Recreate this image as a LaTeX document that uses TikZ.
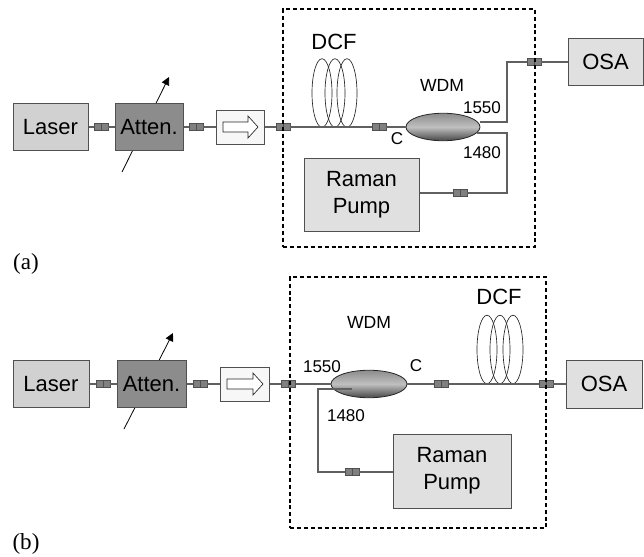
\documentclass[tikz,border=0pt]{standalone}
\usepackage{fontspec}
\setmainfont{Liberation Sans}
\newfontfamily\lblfont{Liberation Serif}
\usetikzlibrary{shapes.geometric,arrows.meta}
\def\pu{0.75pt}
\definecolor{fibre}{HTML}{606060}
\definecolor{edge}{HTML}{505050}
\tikzset{
  x=0.75pt,y=-0.75pt,
  block/.style n args={3}{draw=edge,line width=0.75pt,fill=#1,inner sep=0pt,minimum width=#2*\pu,minimum height=#3*\pu,align=center,font=\fontsize{16.5}{20.25}\selectfont},
  fibreline/.style={draw=fibre,line width=0.85pt},
  splice/.style={draw=edge,line width=0.5pt,fill=black!50,inner sep=0pt,minimum width=14*\pu,minimum height=7*\pu,
    path picture={\draw[edge,line width=0.5pt] (path picture bounding box.north) -- (path picture bounding box.south);}},
  coil/.style={draw=black!85,line width=0.5pt,ellipse,inner sep=0pt,minimum width=20*\pu,minimum height=68.5*\pu},
  wdm/.style={draw=black!85,line width=0.6pt,ellipse,inner sep=0pt,top color=black!45,bottom color=black!72,middle color=black!25,minimum width=#1*\pu,minimum height=27.5*\pu},
  isoarrow/.style={draw=black!85,line width=0.5pt,fill=white},
  frame/.style={draw=black,dash pattern=on 3pt off 2.2pt,line width=#1,inner sep=0pt},
  tunearrow/.style={draw=black,line width=0.6pt,-{Triangle[length=8*\pu,width=8*\pu]}},
  dcflabel/.style={font=\fontsize{16.5}{20}\selectfont,inner sep=0pt},
  wdmlabel/.style={font=\fontsize{13.2}{16}\selectfont,inner sep=0pt},
  numlabel/.style={font=\fontsize{12.8}{16}\selectfont,inner sep=0pt},
  panellabel/.style={font=\lblfont\fontsize{17.3}{20}\selectfont,inner sep=0pt},
}
\begin{document}
\begin{tikzpicture}
\useasboundingbox (0,0) rectangle (644,557);
% ---------- panel (a)
\coordinate (atlowA) at (122,172);
\coordinate (athighA) at (169,77);
\draw[tunearrow] (atlowA) -- (athighA);
\node[block={black!18}{75}{47}] (laserA) at (50.5,127) {Laser};
\node[block={black!45}{68}{47}] (attenA) at (149,127) {Atten.};
\node[block={black!3}{48}{34}] (isoA) at (240,127) {};
\draw[isoarrow] (223,122) -- (248,122) -- (248,116) -- (258,127) -- (248,138) -- (248,132) -- (223,132) -- cycle;
\node[splice] (s1A) at (101,127) {};
\node[splice] (s2A) at (196,127) {};
\node[splice] (s3A) at (283,127) {};
\node[splice] (s4A) at (379,127) {};
\node[splice] (s5A) at (534,62) {};
\node[splice] (s6A) at (460,193) {};
\node[coil] (c1A) at (322,93) {};
\node[coil] (c2A) at (335,93) {};
\node[coil] (c3A) at (347,93) {};
\node[dcflabel] (dcfA) at (334,42) {DCF};
\node[wdm=74] (wdmA) at (443,127) {};
\node[wdmlabel] (wdmtA) at (442,85) {WDM};
\node[numlabel] (n1A) at (482,108) {1550};
\node[numlabel] (n2A) at (482,153) {1480};
\node[numlabel] (ccA) at (397,139) {C};
\node[block={black!12}{75}{47}] (osaA) at (605.5,62) {OSA};
\node[block={black!12}{115}{73}] (ramanA) at (361.5,194.5) {Raman\\Pump};
\coordinate (p1A) at (480,122);
\coordinate (p2A) at (477,133);
\draw[fibreline] (laserA.east) -- (s1A.west);
\draw[fibreline] (s1A.east) -- (attenA.west);
\draw[fibreline] (attenA.east) -- (s2A.west);
\draw[fibreline] (s2A.east) -- (isoA.west);
\draw[fibreline] (isoA.east) -- (s3A.west);
\draw[fibreline] (s3A.east) -- (s4A.west);
\draw[fibreline] (s4A.east) -- (wdmA.west);
\draw[fibreline] (p1A) -| (507,62) -- (s5A.west);
\draw[fibreline] (s5A.east) -- (osaA.west);
\draw[fibreline] (p2A) -| (507,193) -- (s6A.east);
\draw[fibreline] (s6A.west) -- (ramanA.east |- s6A.west);
\node[frame=0.8pt,minimum width=252*\pu,minimum height=238*\pu] (frameA) at (409,128) {};
\node[panellabel] (labA) at (26,264) {(a)};
% ---------- panel (b)
\coordinate (atlowB) at (124,429);
\coordinate (athighB) at (173,333);
\draw[tunearrow] (atlowB) -- (athighB);
\node[block={black!18}{76}{47}] (laserB) at (51,384) {Laser};
\node[block={black!45}{69}{47}] (attenB) at (151.5,384) {Atten.};
\node[block={black!3}{49}{34}] (isoB) at (244.5,384) {};
\draw[isoarrow] (227,379) -- (253,379) -- (253,373) -- (263,384) -- (253,395) -- (253,389) -- (227,389) -- cycle;
\node[splice] (s1B) at (103,384) {};
\node[splice] (s2B) at (200,384) {};
\node[splice] (s3B) at (288.5,384) {};
\node[splice] (s4B) at (441.5,384) {};
\node[splice] (s5B) at (546,384) {};
\node[splice] (s6B) at (352,472) {};
\node[coil] (c1B) at (487,349.5) {};
\node[coil] (c2B) at (500,349.5) {};
\node[coil] (c3B) at (513,349.5) {};
\node[dcflabel] (dcfB) at (499,297) {DCF};
\node[wdm=76] (wdmB) at (369,384) {};
\node[wdmlabel] (wdmtB) at (369,322) {WDM};
\node[numlabel] (n1B) at (322,367) {1550};
\node[numlabel] (n2B) at (346,416) {1480};
\node[numlabel] (ccB) at (416,366) {C};
\node[block={black!12}{76}{48}] (osaB) at (604,384) {OSA};
\node[block={black!12}{118}{74}] (ramanB) at (452,471) {Raman\\Pump};
\coordinate (p1B) at (352,389);
\draw[fibreline] (laserB.east) -- (s1B.west);
\draw[fibreline] (s1B.east) -- (attenB.west);
\draw[fibreline] (attenB.east) -- (s2B.west);
\draw[fibreline] (s2B.east) -- (isoB.west);
\draw[fibreline] (isoB.east) -- (s3B.west);
\draw[fibreline] (s3B.east) -- (wdmB.west);
\draw[fibreline] (wdmB.east) -- (s4B.west);
\draw[fibreline] (s4B.east) -- (s5B.west);
\draw[fibreline] (s5B.east) -- (osaB.west);
\draw[fibreline] (p1B) -- (318,389) |- (s6B.west);
\draw[fibreline] (s6B.east) -- (ramanB.west |- s6B.east);
\node[frame=1.1pt,minimum width=256*\pu,minimum height=251*\pu] (frameB) at (418,402.5) {};
\node[panellabel] (labB) at (26,544) {(b)};
\end{tikzpicture}
\end{document}
